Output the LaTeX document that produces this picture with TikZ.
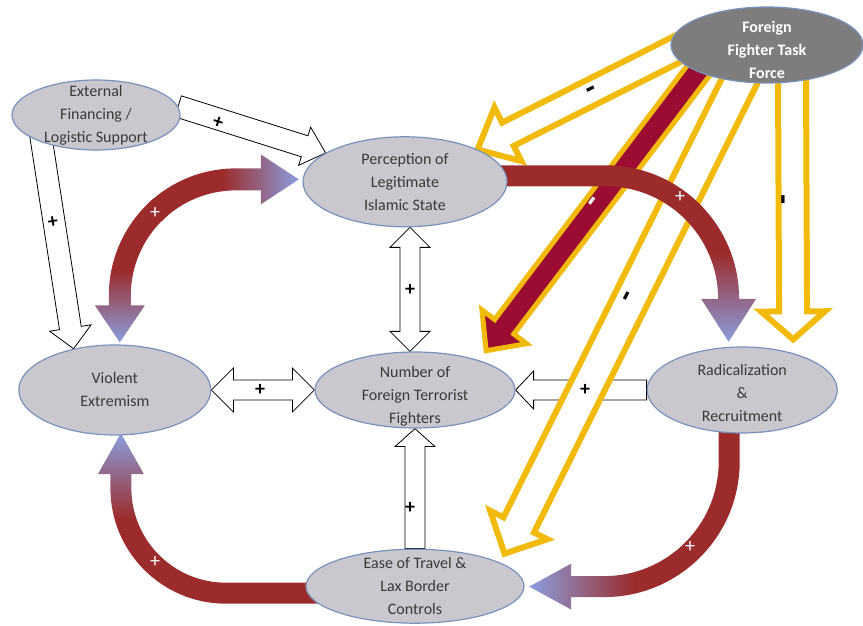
\documentclass[tikz,border=0pt]{standalone}
\usepackage{fontspec}
\setmainfont{Carlito}
\usetikzlibrary{positioning}
\usetikzlibrary{shapes.geometric}
\usetikzlibrary{calc}

\definecolor{ovalfill}{RGB}{200,200,206}
\definecolor{ovalline}{RGB}{120,146,188}
\definecolor{ovaltext}{RGB}{58,58,58}
\definecolor{taskgray}{RGB}{125,125,125}
\definecolor{bandred}{RGB}{156,44,44}
\definecolor{bandblue}{RGB}{138,158,222}
\definecolor{gold}{RGB}{242,186,10}
\definecolor{crimson}{RGB}{155,12,50}

\pgfdeclarelayer{background}
\pgfsetlayers{background,main}

\begin{document}
\begin{tikzpicture}[x=1pt,y=1pt,
  main node/.style={ellipse,draw=ovalline,line width=1.2pt,fill=ovalfill,text=ovaltext,
    align=center,inner sep=-40pt,font=\fontsize{16}{23}\selectfont},
  task node/.style={main node,fill=taskgray,text=white,font=\fontsize{16}{23}\selectfont\bfseries},
  plain arrow/.style={draw=black,fill=white,line width=0.8pt},
  gold arrow/.style={draw=gold,fill=white,line width=6pt},
  sign/.style={inner sep=0pt,font=\fontsize{20}{20}\selectfont\bfseries},
  band sign/.style={inner sep=0pt,text=white,font=\fontsize{20}{20}\selectfont},
  minus/.style={inner sep=0pt,font=\fontsize{32}{32}\selectfont\bfseries},
  block arrow/.style n args={3}{to path={
    let \p1=(\tikztostart), \p2=(\tikztotarget),
        \n1={atan2(\y2-\y1,\x2-\x1)} in
    ($(\p1)+(\n1+90:#1)$) -- ($(\p2)+(\n1+180:#3)+(\n1+90:#1)$)
    -- ($(\p2)+(\n1+180:#3)+(\n1+90:#2)$) -- (\p2)
    -- ($(\p2)+(\n1+180:#3)+(\n1-90:#2)$) -- ($(\p2)+(\n1+180:#3)+(\n1-90:#1)$)
    -- ($(\p1)+(\n1-90:#1)$) -- cycle}},
  double block/.style n args={3}{to path={
    let \p1=(\tikztostart), \p2=(\tikztotarget),
        \n1={atan2(\y2-\y1,\x2-\x1)} in
    (\p1) -- ($(\p1)+(\n1:#3)+(\n1+90:#2)$) -- ($(\p1)+(\n1:#3)+(\n1+90:#1)$)
    -- ($(\p2)+(\n1+180:#3)+(\n1+90:#1)$) -- ($(\p2)+(\n1+180:#3)+(\n1+90:#2)$)
    -- (\p2)
    -- ($(\p2)+(\n1+180:#3)+(\n1-90:#2)$) -- ($(\p2)+(\n1+180:#3)+(\n1-90:#1)$)
    -- ($(\p1)+(\n1:#3)+(\n1-90:#1)$) -- ($(\p1)+(\n1:#3)+(\n1-90:#2)$) -- cycle}}]

  \useasboundingbox (0,0) rectangle (863,626);

  \node[main node,minimum width=200pt,minimum height=76pt] (NFTF) at (415,236) {\rule{0pt}{24pt}Number of\\Foreign Terrorist\\Fighters};
  \node[main node,minimum width=204pt,minimum height=90pt] (PLIS) [above=124pt of NFTF,xshift=-10pt] {Perception of\\Legitimate\\Islamic State};
  \node[main node,minimum width=192pt,minimum height=90pt] (VE) [left=103pt of NFTF] {Violent\\Extremism};
  \node[main node,minimum width=190pt,minimum height=86pt] (RR) [right=131pt of NFTF] {\rule{0pt}{18pt}Radicalization\\\&\\Recruitment};
  \node[main node,minimum width=218pt,minimum height=74pt] (ETLB) [below=120pt of NFTF] {Ease of Travel \&\\Lax Border\\Controls};
  \node[main node,minimum width=168pt,minimum height=70pt] (EFLS) at (96,511) {External\\Financing /\\Logistic Support};
  \node[task node,minimum width=192pt,minimum height=76pt] (FFTF) at (767,581) {\rule{0pt}{22pt}Foreign\\Fighter Task\\Force};

  \begin{pgfonlayer}{background}
    % white links
    \draw[plain arrow] (EFLS.6) to[block arrow={11pt}{20pt}{22pt}] (PLIS.160);
    \draw[plain arrow] ([yshift=15pt]EFLS.205) to[block arrow={11pt}{21pt}{21pt}] (VE.135);
    \draw[plain arrow] (VE.east) to[double block={10pt}{22pt}{22pt}] (NFTF.west);
    \draw[plain arrow] ([xshift=5pt]PLIS.south) to[double block={10pt}{20pt}{20pt}] ([xshift=-5pt]NFTF.north);
    \draw[plain arrow] (RR.west) to[block arrow={10pt}{19pt}{18pt}] (NFTF.east);
    \draw[plain arrow] (ETLB.north) to[block arrow={10pt}{20pt}{18pt}] (NFTF.south);

    % task force links
    \draw[gold arrow] ([xshift=15pt]FFTF.west) to[block arrow={13pt}{30pt}{34pt}] (PLIS.north east);
    \draw[gold arrow,fill=crimson,line width=5pt] ([shift={(-53pt,-5pt)}]FFTF.center) to[block arrow={12pt}{28pt}{30pt}] ([yshift=12pt]NFTF.north east);
    \draw[gold arrow] ([shift={(-22pt,-25pt)}]FFTF.center) to[block arrow={17pt}{32pt}{32pt}] ([shift={(12pt,6pt)}]ETLB.north east);
    \draw[gold arrow] ([shift={(25pt,-30pt)}]FFTF.center) to[block arrow={14pt}{32pt}{28pt}] ([shift={(51pt,7pt)}]RR.north);

    % loop: Violent Extremism <-> Perception (two halves)
    \shade[top color=bandred,bottom color=bandblue,middle color=bandred]
      ([shift={(5pt,2pt)}]VE.north) -- ++(25,37) -- ++(-14,0) -- ++(0,10)
      arc[start angle=180,end angle=130,radius=105] -- ++(-14.1,16.9)
      arc[start angle=130,end angle=180,radius=127] -- ++(0,-10) -- ++(-14,0) -- cycle;
    \shade[left color=bandred,right color=bandblue,middle color=bandred]
      ([shift={(46.75pt,123.25pt)}]VE.north) arc[start angle=135,end angle=90,radius=105]
      -- ++(25,0) -- ++(0,-14) -- ++(38,25) -- ++(-38,25) -- ++(0,-14) -- ++(-25,0)
      arc[start angle=90,end angle=135,radius=127] -- cycle;
    % Perception -> Radicalization
    \shade[top color=bandred,bottom color=bandblue,middle color=bandred]
      ([shift={(-12pt,16.5pt)}]PLIS.east) -- ++(110,0) arc[start angle=90,end angle=0,radius=133.5]
      -- ++(17,0) -- ++(-27.5,-43) -- ++(-27.5,43) -- ++(17,0)
      arc[start angle=0,end angle=90,radius=112.5] -- ++(-110,0) -- cycle;
    % Radicalization -> Ease of Travel
    \shade[left color=bandblue,right color=bandred,middle color=bandred]
      ([shift={(-2.5pt,7pt)}]RR.south) -- ++(0,-35) arc[start angle=0,end angle=-90,radius=135.5]
      -- ++(-33,0) -- ++(0,-12.5) -- ++(-42,23) -- ++(42,23) -- ++(0,-12.5) -- ++(33,0)
      arc[start angle=-90,end angle=0,radius=114.5] -- ++(0,35) -- cycle;
    % Ease of Travel -> Violent Extremism
    \shade[bottom color=bandred,top color=bandblue,middle color=bandred]
      ([shift={(20pt,-17.5pt)}]ETLB.west) -- ++(-99.5,0) arc[start angle=270,end angle=180,radius=115.5]
      -- ++(0,14) -- ++(-12.5,0) -- ++(23,41) -- ++(23,-41) -- ++(-12.5,0) -- ++(0,-14)
      arc[start angle=180,end angle=270,radius=94.5] -- ++(99.5,0) -- cycle;
  \end{pgfonlayer}

  % signs
  \node[sign,rotate=-17] (s1) at (218,503) {+};
  \node[sign,rotate=9] (s2) at (53,404) {+};
  \node[sign] (s3) at (260,236) {+};
  \node[sign] (s4) at (410,336) {+};
  \node[sign] (s5) at (585,236) {+};
  \node[sign] (s6) at (410,118) {+};
  \node[band sign] (b1) at (155,413) {+};
  \node[band sign] (b2) at (680,429) {+};
  \node[band sign] (b3) at (690,79) {+};
  \node[band sign] (b4) at (155,64) {+};
  \node[minus,rotate=27] (m1) at (592,534) {-};
  \node[minus,rotate=53,text=white] (m2) at (595,423) {-};
  \node[minus,rotate=63] (m3) at (630,328) {-};
  \node[minus,rotate=90] (m4) at (787,426) {-};

\end{tikzpicture}
\end{document}
